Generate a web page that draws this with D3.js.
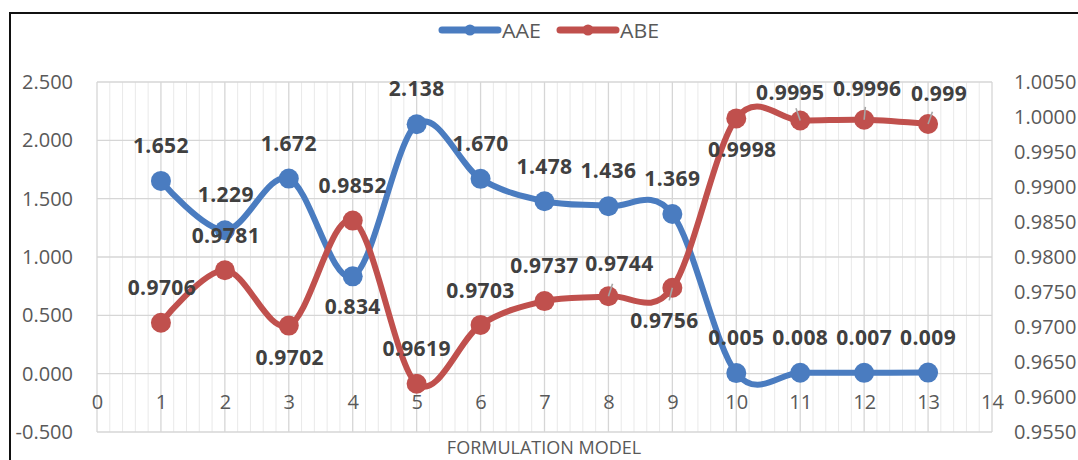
<!DOCTYPE html>
<html>
<head>
<meta charset="utf-8">
<script src="https://cdn.jsdelivr.net/npm/d3@7"></script>
<style>
  html, body { margin: 0; padding: 0; background: #fff; }
  svg { display: block; }
  text { font-family: "Open Sans", "Noto Sans", sans-serif; }
</style>
</head>
<body>
<svg id="chart" width="1078" height="460"></svg>
<script>
// Formulation models 1..13
const models = [1, 2, 3, 4, 5, 6, 7, 8, 9, 10, 11, 12, 13];
// Average absolute error (left axis)
const aae = [1.652, 1.229, 1.672, 0.834, 2.138, 1.670, 1.478, 1.436, 1.369, 0.005, 0.008, 0.007, 0.009];
const aaeText = ["1.652", "1.229", "1.672", "0.834", "2.138", "1.670", "1.478", "1.436", "1.369", "0.005", "0.008", "0.007", "0.009"];
// Average bias error (right axis)
const abe = [0.9706, 0.9781, 0.9702, 0.9852, 0.9619, 0.9703, 0.9737, 0.9744, 0.9756, 0.9998, 0.9995, 0.9996, 0.9990];
const abeText = ["0.9706", "0.9781", "0.9702", "0.9852", "0.9619", "0.9703", "0.9737", "0.9744", "0.9756", "0.9998", "0.9995", "0.9996", "0.999"];
// Axis ticks
const xTicks = [0, 1, 2, 3, 4, 5, 6, 7, 8, 9, 10, 11, 12, 13, 14];
const leftTicks = [-0.5, 0, 0.5, 1.0, 1.5, 2.0, 2.5];
const rightTicks = [0.955, 0.960, 0.965, 0.970, 0.975, 0.980, 0.985, 0.990, 0.995, 1.000, 1.005];

// Label placement (offset of label centre from its marker)
const aaeLabelPos = [[0,-36],[1,-36],[0,-36],[0,30],[0,-36],[0,-36],[0,-35],[0,-36],[0,-36],[0,-36],[0,-36],[0,-36],[0,-36]];
const abeLabelPos = [[1,-36],[1,-35],[1,31],[0,-36],[0,-36],[0,-35],[0,-36],[11,-33],[-8,32],[6,31],[-10,-29],[3,-32],[11,-31]];
const abeLeader = [false,false,false,false,false,false,false,true,true,false,true,true,true];

const BLUE = "#4a7cc0", RED = "#c0504d";
const GRID = "#d6d6d6", MINOR = "#e9e9e9", TXT = "#595959", LBL = "#404040";

const svg = d3.select("#chart");
const plot = { left: 97, right: 992, top: 82, bottom: 432 };

const x = d3.scaleLinear().domain([0, 14]).range([plot.left, plot.right]);
const yL = d3.scaleLinear().domain([-0.5, 2.5]).range([plot.bottom, plot.top]);
const yR = d3.scaleLinear().domain([0.955, 1.005]).range([plot.bottom, plot.top]);

// Outer frame
svg.append("rect").attr("x", 10).attr("y", 13).attr("width", 1200).attr("height", 600)
  .attr("fill", "none").attr("stroke", "#111").attr("stroke-width", 2);

// Minor vertical gridlines
const minor = d3.range(0, 14.001, 0.2).filter(v => Math.abs(v - Math.round(v)) > 1e-6);
svg.append("g").selectAll("line").data(minor).join("line")
  .attr("x1", d => x(d)).attr("x2", d => x(d))
  .attr("y1", plot.top).attr("y2", plot.bottom)
  .attr("stroke", MINOR).attr("stroke-width", 1);

// Major gridlines
svg.append("g").selectAll("line").data(xTicks).join("line")
  .attr("x1", d => x(d)).attr("x2", d => x(d))
  .attr("y1", plot.top).attr("y2", plot.bottom)
  .attr("stroke", GRID).attr("stroke-width", 1.3);
svg.append("g").selectAll("line").data(leftTicks).join("line")
  .attr("x1", plot.left).attr("x2", plot.right)
  .attr("y1", d => yL(d)).attr("y2", d => yL(d))
  .attr("stroke", GRID).attr("stroke-width", 1.3);

const fmt3 = v => d3.format(".3f")(v).replace("\u2212", "-");

// Left axis labels
const leftAxis = d3.axisLeft(yL).tickValues(leftTicks).tickFormat(fmt3).tickSize(0).tickPadding(24);
const gL = svg.append("g").attr("transform", `translate(${plot.left},0)`).call(leftAxis);
gL.select(".domain").remove();
gL.selectAll("text").attr("fill", TXT).style("font-size", "20px").style("font-family", "'Open Sans'");

// Right axis labels
const rightAxis = d3.axisRight(yR).tickValues(rightTicks).tickFormat(d3.format(".4f")).tickSize(0).tickPadding(22);
const gR = svg.append("g").attr("transform", `translate(${plot.right},0)`).call(rightAxis);
gR.select(".domain").remove();
gR.selectAll("text").attr("fill", TXT).style("font-size", "20px").style("font-family", "'Open Sans'");

// Category labels sit just below the zero line
const xAxis = d3.axisBottom(x).tickValues(xTicks).tickFormat(d3.format("d")).tickSize(0).tickPadding(21);
const gX = svg.append("g").attr("transform", `translate(0,${yL(0)})`).call(xAxis);
gX.select(".domain").remove();
gX.selectAll("text").attr("fill", TXT).style("font-size", "20px").style("font-family", "'Open Sans'");

// Axis title
svg.append("text").attr("x", 544).attr("y", 447).attr("text-anchor", "middle")
  .attr("dominant-baseline", "central").attr("fill", TXT)
  .style("font-size", "18px").text("FORMULATION MODEL");

// Smoothed series
const lineL = d3.line().x((d, i) => x(models[i])).y(d => yL(d)).curve(d3.curveCardinal.tension(0));
const lineR = d3.line().x((d, i) => x(models[i])).y(d => yR(d)).curve(d3.curveCardinal.tension(0));

svg.append("path").datum(aae).attr("d", lineL).attr("fill", "none")
  .attr("stroke", BLUE).attr("stroke-width", 6).attr("stroke-linejoin", "round");
svg.append("g").selectAll("circle").data(aae).join("circle")
  .attr("cx", (d, i) => x(models[i])).attr("cy", d => yL(d)).attr("r", 10).attr("fill", BLUE);

svg.append("path").datum(abe).attr("d", lineR).attr("fill", "none")
  .attr("stroke", RED).attr("stroke-width", 6).attr("stroke-linejoin", "round");
svg.append("g").selectAll("circle").data(abe).join("circle")
  .attr("cx", (d, i) => x(models[i])).attr("cy", d => yR(d)).attr("r", 10).attr("fill", RED);

// Leader lines for moved labels
svg.append("g").selectAll("line").data(abe.map((v, i) => ({ v, i })).filter(d => abeLeader[d.i])).join("line")
  .each(function(d) {
    const px = x(models[d.i]), py = yR(d.v);
    const [dx, dy] = abeLabelPos[d.i];
    const len = Math.hypot(dx, dy);
    const k = 13 / len;
    d3.select(this).attr("x1", px).attr("y1", py).attr("x2", px + dx * k).attr("y2", py + dy * k);
  })
  .attr("stroke", "#a6a6a6").attr("stroke-width", 1.6);

// Data labels
function labels(vals, txt, pos, yScale) {
  svg.append("g").selectAll("text").data(vals).join("text")
    .attr("x", (d, i) => x(models[i]) + pos[i][0])
    .attr("y", (d, i) => yScale(d) + pos[i][1])
    .attr("text-anchor", "middle").attr("dominant-baseline", "central")
    .attr("fill", LBL).style("font-size", "21px").style("font-weight", "700")
    .style("letter-spacing", "0.4px")
    .text((d, i) => txt[i]);
}
labels(aae, aaeText, aaeLabelPos, yL);
labels(abe, abeText, abeLabelPos, yR);

// Legend
const legend = [
  { name: "AAE", color: BLUE, x0: 440 },
  { name: "ABE", color: RED, x0: 558 }
];
const lg = svg.append("g").selectAll("g").data(legend).join("g");
lg.append("line").attr("x1", d => d.x0 + 2).attr("x2", d => d.x0 + 58).attr("y1", 30).attr("y2", 30)
  .attr("stroke", d => d.color).attr("stroke-width", 7).attr("stroke-linecap", "round");
lg.append("circle").attr("cx", d => d.x0 + 30).attr("cy", 30).attr("r", 5.5).attr("fill", d => d.color);
lg.append("text").attr("x", d => d.x0 + 62).attr("y", 30).attr("dominant-baseline", "central")
  .attr("fill", TXT).style("font-size", "20px")
  .attr("textLength", 39).attr("lengthAdjust", "spacingAndGlyphs").text(d => d.name);
</script>
</body>
</html>
